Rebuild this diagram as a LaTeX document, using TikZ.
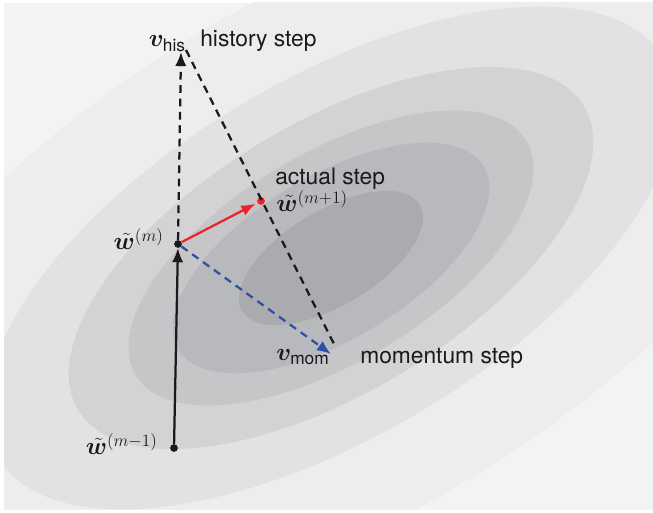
\RequirePackage{fix-cm}
\documentclass[tikz,border=0pt]{standalone}
\usepackage{amsmath,bm}
\usepackage{fontspec}
\setsansfont{TeX Gyre Heros}
\usetikzlibrary{arrows.meta}

\definecolor{bgout}{RGB}{242,243,245}
\definecolor{band6}{RGB}{237,237,238}
\definecolor{band5}{RGB}{226,226,228}
\definecolor{band4}{RGB}{211,211,214}
\definecolor{band3}{RGB}{198,198,201}
\definecolor{band2}{RGB}{184,185,188}
\definecolor{band1}{RGB}{170,171,174}
\definecolor{actred}{RGB}{232,38,42}
\definecolor{momblue}{RGB}{48,80,168}
\definecolor{inkblack}{RGB}{26,26,26}

\begin{document}
\begin{tikzpicture}[
  x=0.025cm,y=0.025cm,
  dot/.style={circle,fill=inkblack,inner sep=0pt,minimum size=5.5pt},
  lbl/.style={inner sep=0pt,text=inkblack,font=\fontsize{16.2}{19}\selectfont\sffamily},
  mathlbl/.style={lbl,font=\fontsize{17.6}{20}\selectfont\sffamily},
  stepline/.style={line width=1.6pt,-{Latex[length=10pt,width=8pt]}},
  dashline/.style={dash pattern=on 5.5pt off 4pt}
]
  \useasboundingbox (0,0) rectangle (653,513);

  % level sets of the loss
  \fill[bgout] (4,3) rectangle (653,510);
  \begin{scope}
    \clip (4,3) rectangle (653,510);
    \foreach \k/\c in {5.5/band6,3.75/band5,2.85/band4,2.2/band3,1.72/band2,1/band1}
      \fill[\c,rotate around={31:(331,255)}] (331,255) ellipse [x radius=103.5*\k, y radius=47.4*\k];
  \end{scope}

  \node[dot] (wprev) at (174,65) {};
  \node[dot] (wcur) at (178,269) {};
  \node[dot,fill=actred] (wnext) at (261,312) {};
  \coordinate (vhis) at (181,461);
  \coordinate (vmom) at (331,159);
  \coordinate (hisend) at (186,463);
  \coordinate (momend) at (334,169);

  \draw[stepline,inkblack] (wprev) -- (wcur);
  \draw[stepline,dashline,inkblack] (wcur) -- (vhis);
  \draw[line width=1.6pt,dashline,inkblack] (hisend) -- (momend);
  \draw[stepline,dashline,momblue] (wcur) -- (vmom);
  \draw[stepline,actred,shorten >=1.5pt] (wcur) -- (wnext);

  \node[mathlbl,anchor=base east] (lprev) at (158,58) {$\tilde{\bm{w}}^{(m-1)}$};
  \node[mathlbl,anchor=base east] (lcur) at (164,263) {$\tilde{\bm{w}}^{(m)}$};
  \node[mathlbl,anchor=base west] (lnext) at (276,301) {$\tilde{\bm{w}}^{(m+1)}$};
  \node[lbl,anchor=base west] (tactual) at (275,328) {actual step};
  \node[mathlbl,anchor=base east] (lhis) at (186,466) {$\bm{v}_{\text{his}}$};
  \node[lbl,anchor=base west] (this) at (200,466) {history step};
  \node[mathlbl,anchor=base west] (lmom) at (276,152) {$\bm{v}_{\text{mom}}$};
  \node[lbl,anchor=base west] (tmom) at (360,149) {momentum step};
\end{tikzpicture}
\end{document}
